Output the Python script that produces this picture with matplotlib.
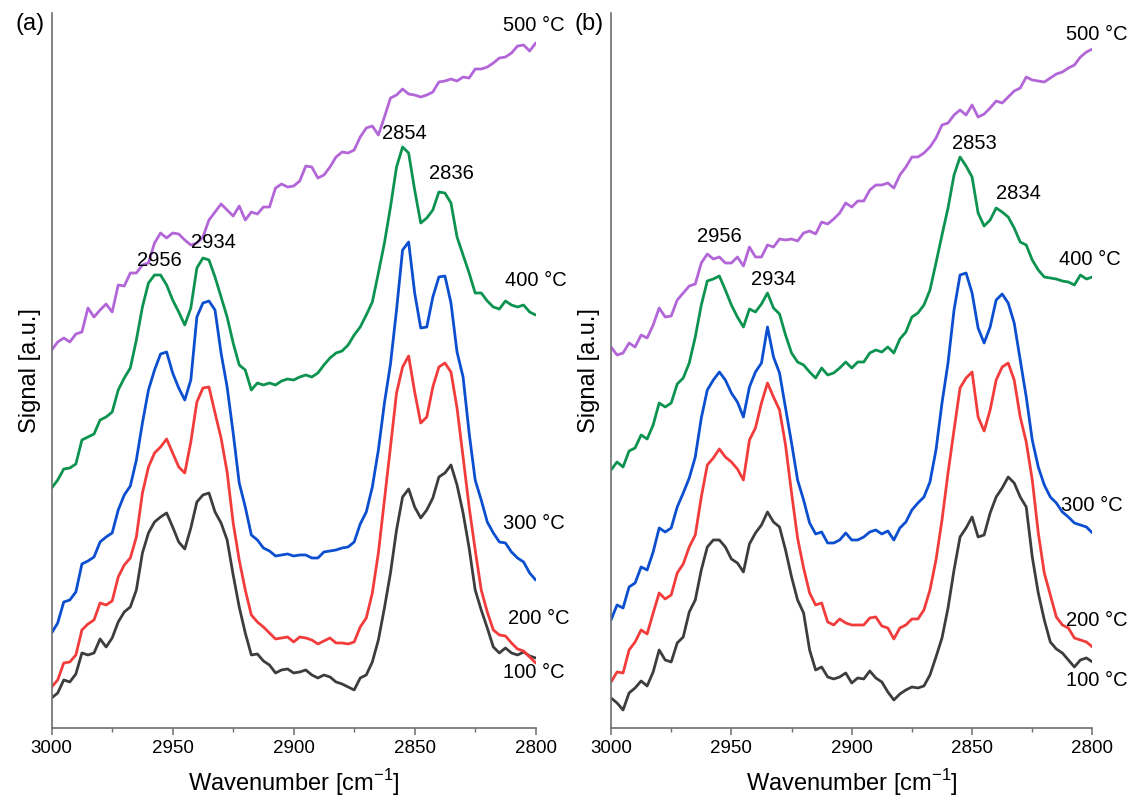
import numpy as np
import matplotlib
matplotlib.use("Agg")
import matplotlib.pyplot as plt
from matplotlib.ticker import MultipleLocator, NullLocator

plt.rcParams['font.family'] = ['Liberation Sans', 'DejaVu Sans']
plt.rcParams['mathtext.fontset'] = 'custom'
plt.rcParams['mathtext.rm'] = 'Liberation Sans'

# wavenumber grid (cm-1), 3000 -> 2800 in 2.5 steps
wavenumber = np.linspace(3000, 2800, 81)

# panel (a), signal in arbitrary units
a_100 = [30, 35, 48, 46, 54, 75, 73, 75, 89, 81, 90, 106, 116, 121, 138, 175, 195, 206, 211, 215,
         201, 186, 179, 200, 226, 233, 235, 216, 205, 188, 153, 121, 95, 73, 74, 67, 63, 55, 58, 59, 55,
         56, 58, 53, 50, 53, 51, 46, 44, 41, 38, 50, 53, 66, 88, 120, 155, 198, 231, 239, 221,
         210, 218, 230, 251, 255, 263, 243, 215, 180, 138, 118, 100, 81, 75, 80, 75, 73, 76, 72, 70]
a_200 = [41, 48, 65, 66, 73, 98, 104, 108, 125, 123, 127, 151, 163, 170, 191, 235, 261, 275, 281, 289,
         275, 261, 255, 286, 326, 340, 341, 315, 290, 256, 205, 168, 138, 113, 106, 101, 95, 89, 90, 91, 86,
         91, 90, 88, 84, 87, 90, 85, 85, 84, 86, 101, 110, 135, 175, 228, 281, 335, 361, 372, 336,
         305, 311, 341, 361, 365, 356, 320, 271, 221, 178, 138, 116, 98, 93, 92, 85, 79, 77, 71, 65]
a_300 = [95, 105, 126, 128, 136, 164, 167, 171, 186, 191, 195, 218, 233, 242, 268, 305, 338, 358, 374, 376,
         355, 340, 328, 348, 411, 425, 427, 418, 375, 341, 295, 245, 221, 193, 188, 180, 177, 172, 173, 174, 172,
         173, 173, 170, 170, 176, 177, 178, 180, 181, 186, 204, 216, 241, 278, 325, 364, 418, 478, 486, 435,
         400, 401, 431, 451, 452, 425, 376, 351, 295, 248, 228, 206, 195, 186, 185, 176, 170, 166, 155, 148]
a_400 = [240, 248, 259, 260, 264, 288, 291, 294, 308, 311, 316, 338, 350, 360, 388, 421, 445, 453, 453, 443,
         428, 416, 403, 420, 460, 470, 468, 451, 431, 411, 385, 363, 358, 338, 345, 343, 345, 343, 347, 349, 348,
         351, 353, 351, 355, 363, 370, 375, 377, 383, 393, 401, 413, 426, 455, 485, 521, 561, 581, 575, 538,
         505, 510, 518, 536, 535, 525, 491, 473, 455, 435, 435, 427, 421, 419, 427, 423, 421, 423, 416, 413]
a_500 = [378, 386, 390, 386, 394, 396, 420, 411, 418, 424, 416, 443, 442, 455, 455, 463, 465, 485, 495, 490,
         495, 494, 488, 483, 485, 491, 508, 516, 524, 518, 512, 522, 508, 516, 514, 521, 521, 540, 544, 541, 542,
         547, 562, 561, 550, 553, 561, 571, 576, 575, 578, 591, 600, 602, 593, 611, 630, 633, 639, 634, 633,
         631, 633, 636, 646, 647, 649, 647, 651, 650, 659, 659, 661, 665, 670, 671, 675, 682, 683, 677, 685]

# panel (b)
b_100 = [30, 25, 18, 35, 40, 47, 42, 56, 78, 68, 66, 85, 91, 116, 128, 158, 181, 188, 188, 181,
         169, 165, 156, 184, 195, 203, 216, 206, 201, 178, 151, 128, 115, 78, 58, 61, 51, 49, 51, 55, 45,
         50, 49, 57, 50, 46, 36, 28, 34, 38, 41, 40, 42, 53, 71, 90, 120, 158, 191, 200, 211,
         191, 193, 215, 231, 240, 251, 245, 231, 221, 171, 135, 108, 86, 79, 75, 68, 61, 68, 70, 66]
b_200 = [46, 56, 55, 78, 86, 98, 94, 115, 135, 129, 133, 155, 164, 181, 193, 231, 263, 270, 279, 271,
         266, 259, 248, 288, 300, 325, 345, 331, 318, 283, 235, 190, 160, 135, 123, 125, 106, 103, 109, 105, 103,
         103, 103, 110, 111, 102, 100, 89, 100, 103, 109, 109, 118, 138, 168, 208, 255, 298, 340, 350, 356,
         311, 297, 318, 348, 361, 365, 348, 311, 286, 248, 195, 155, 133, 111, 103, 100, 90, 88, 86, 81]
b_300 = [108, 123, 120, 141, 145, 161, 158, 176, 200, 196, 200, 221, 235, 250, 271, 310, 338, 348, 356, 348,
         335, 326, 311, 341, 356, 365, 401, 371, 355, 320, 285, 248, 228, 205, 194, 196, 185, 185, 188, 195, 188,
         188, 191, 196, 198, 194, 197, 188, 200, 206, 218, 225, 231, 246, 278, 325, 365, 418, 453, 455, 435,
         400, 385, 401, 428, 434, 425, 405, 368, 331, 288, 261, 243, 231, 225, 216, 211, 205, 203, 201, 195]
b_400 = [258, 266, 261, 277, 280, 293, 289, 303, 325, 321, 325, 344, 350, 365, 391, 423, 447, 449, 452, 438,
         423, 411, 401, 419, 416, 424, 435, 420, 414, 393, 375, 366, 363, 356, 350, 360, 353, 355, 360, 366, 360,
         366, 366, 375, 378, 376, 381, 375, 389, 396, 411, 415, 423, 438, 465, 493, 520, 553, 571, 562, 551,
         515, 502, 508, 520, 516, 511, 500, 486, 483, 468, 458, 451, 450, 449, 447, 446, 443, 453, 449, 451]
b_500 = [381, 373, 375, 385, 381, 393, 390, 403, 420, 411, 412, 428, 435, 442, 444, 465, 474, 469, 471, 465,
         465, 471, 462, 481, 471, 471, 483, 481, 489, 488, 489, 487, 495, 497, 494, 506, 504, 509, 515, 525, 521,
         527, 527, 538, 543, 543, 545, 540, 553, 561, 571, 571, 575, 581, 590, 603, 605, 613, 618, 613, 623,
         611, 614, 620, 627, 625, 631, 637, 640, 651, 648, 647, 646, 650, 654, 656, 660, 663, 671, 676, 679]

temps = ['100 °C', '200 °C', '300 °C', '400 °C', '500 °C']
colors = ['#3d3d3d', '#f23c3c', '#0b4fd0', '#0d9350', '#b266d8']

# temperature labels: (x, y) in data units
a_temp_pos = [(2813.5, 55), (2811.5, 109), (2813.5, 204), (2812.5, 448), (2813.5, 703)]
b_temp_pos = [(2811, 47), (2811, 107), (2813, 222), (2814, 469), (2811, 694)]
# peak labels
a_peaks = [('2956', 2955.5, 468), ('2934', 2933.2, 486), ('2854', 2854.3, 595), ('2836', 2834.9, 555)]
b_peaks = [('2956', 2955.0, 492), ('2934', 2932.6, 449), ('2853', 2849.1, 585), ('2834', 2830.8, 535)]


def draw_panel(ax, series, temp_pos, peaks, letter):
    for y, c in zip(series, colors):
        ax.plot(wavenumber, y, color=c, lw=2.0, solid_joinstyle='round', solid_capstyle='round')
    for t, (x, y) in zip(temps, temp_pos):
        ax.text(x, y, t, fontsize=14.5, ha='left', va='center')
    for lab, x, y in peaks:
        ax.text(x, y, lab, fontsize=14.5, ha='center', va='center')
    ax.set_xlim(3000, 2800)
    ax.set_ylim(0, 715)
    ax.xaxis.set_major_locator(MultipleLocator(50))
    ax.xaxis.set_minor_locator(MultipleLocator(25))
    ax.yaxis.set_major_locator(NullLocator())
    for s in ['top', 'right']:
        ax.spines[s].set_visible(False)
    for s in ['left', 'bottom']:
        ax.spines[s].set_color('#6e6e6e')
        ax.spines[s].set_linewidth(1.2)
    ax.tick_params(axis='x', which='major', direction='out', length=5, width=1.1,
                   color='#6e6e6e', labelsize=13.5, pad=4)
    ax.tick_params(axis='x', which='minor', direction='out', length=3, width=1.0, color='#6e6e6e')
    ax.set_xlabel('Wavenumber [cm$^{\\mathregular{-1}}$]', fontsize=17, labelpad=7)
    ax.set_ylabel('Signal [a.u.]', fontsize=17, labelpad=8)
    ax.text(-0.075, 0.985, letter, transform=ax.transAxes, fontsize=17, ha='left', va='center')


fig = plt.figure(figsize=(11.33, 7.99), dpi=100)
ax_a = fig.add_axes([0.0456, 0.0889, 0.4272, 0.8948])
ax_b = fig.add_axes([0.5393, 0.0889, 0.4249, 0.8948])

draw_panel(ax_a, [a_100, a_200, a_300, a_400, a_500], a_temp_pos, a_peaks, '(a)')
draw_panel(ax_b, [b_100, b_200, b_300, b_400, b_500], b_temp_pos, b_peaks, '(b)')

fig.savefig('out.png', dpi=100)
